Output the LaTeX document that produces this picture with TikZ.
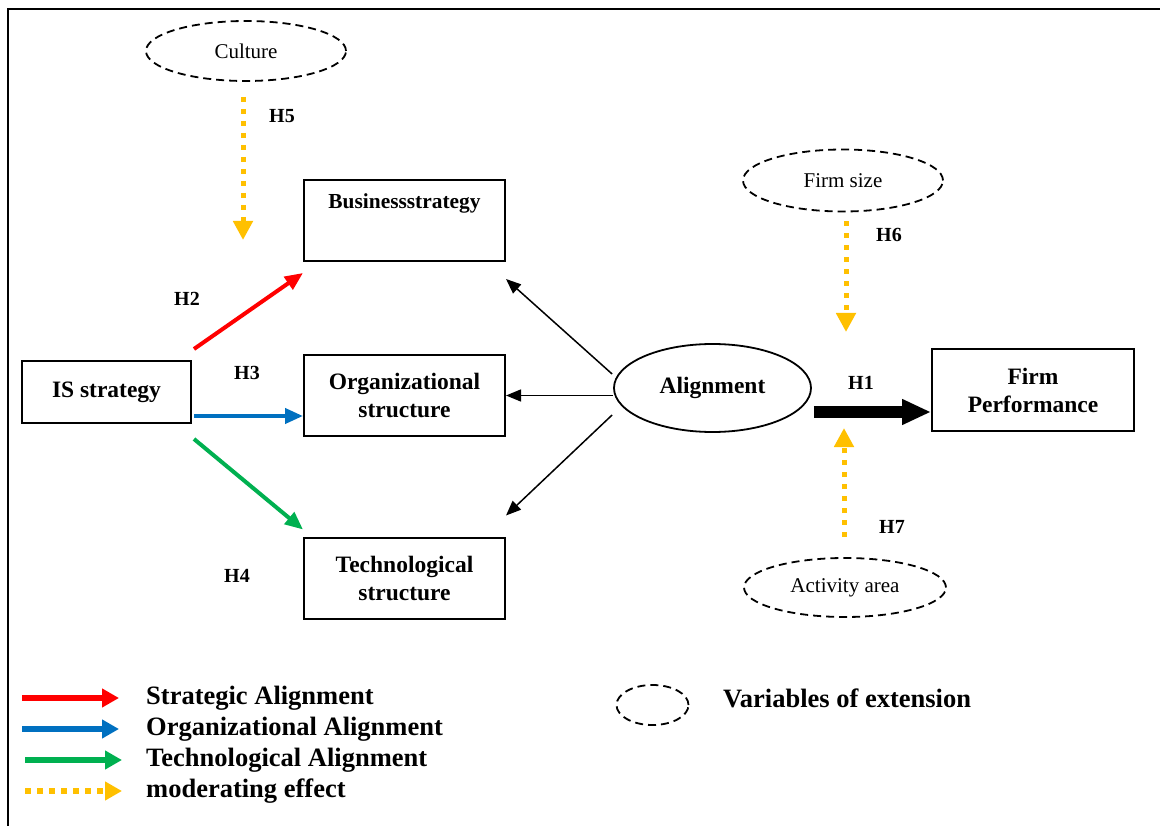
\documentclass[tikz,border=0pt]{standalone}
\usepackage{fontspec}
\setmainfont{Liberation Serif}
\usetikzlibrary{shapes.geometric,arrows.meta}
\definecolor{cred}{HTML}{FF0000}
\definecolor{cblue}{HTML}{0070C0}
\definecolor{cgreen}{HTML}{00B050}
\definecolor{cyel}{HTML}{FFC000}
\tikzset{
  box/.style={draw,line width=2pt,inner sep=0pt,align=center,font=\bfseries\fontsize{23.5}{28}\selectfont},
  varell/.style={draw,ellipse,line width=1.8pt,dash pattern=on 8pt off 5pt,inner sep=0pt,font=\fontsize{21}{24}\selectfont},
  hlab/.style={font=\bfseries\fontsize{20}{24}\selectfont,inner sep=0pt},
  legtxt/.style={anchor=west,inner sep=0pt,font=\bfseries\fontsize{26.5}{30}\selectfont},
  colarrow/.style={line width=4pt,-{Triangle[length=18pt,width=15pt]}},
  blkarrow/.style={line width=1.5pt,-{Triangle[length=15pt,width=12pt]}},
  modarrow/.style={cyel,line width=5pt,dash pattern=on 5pt off 7pt,-{Triangle[length=19pt,width=19pt]}},
  legarrow/.style={line width=6.5pt,-{Triangle[length=17pt,width=18pt]}},
  legmod/.style={cyel,line width=6pt,dash pattern=on 6pt off 6pt,-{Triangle[length=17pt,width=18pt]}},
}
\begin{document}
\begin{tikzpicture}[x=1pt,y=-1pt]
\useasboundingbox (0,0) rectangle (1160,826);
% frame
\draw[line width=2.6pt] (8,826) -- (8,9) -- (1160,9);

% nodes
\node[box,minimum width=169pt,minimum height=62pt] (is) at (106.5,392) {IS strategy};
\node[box,minimum width=201pt,minimum height=81pt] (bus) at (404.5,220.5) {};
\node[hlab,font=\bfseries\fontsize{21.4}{24}\selectfont] (bustext) at (404.5,203) {Businessstrategy};
\node[box,minimum width=201pt,minimum height=81pt] (org) at (404.5,395.5) {Organizational\\structure};
\node[box,minimum width=201pt,minimum height=81pt] (tech) at (404.5,578) {Technological\\structure};
\node[draw,ellipse,line width=1.8pt,inner sep=0pt,minimum width=197pt,minimum height=88pt,font=\bfseries\fontsize{23.5}{28}\selectfont] (align) at (712.5,388) {Alignment};
\node[box,minimum width=202pt,minimum height=82pt] (firm) at (1033,390) {Firm\\Performance};

\node[varell,minimum width=200pt,minimum height=60pt] (culture) at (246,51) {Culture};
\node[varell,minimum width=200pt,minimum height=62pt] (fsize) at (843,180.5) {Firm size};
\node[varell,minimum width=202pt,minimum height=59pt] (act) at (845,587.5) {Activity area};

% hypothesis labels
\node[hlab] (h1) at (861,383) {H1};
\node[hlab] (h2) at (187,299) {H2};
\node[hlab] (h3) at (247,373) {H3};
\node[hlab] (h4) at (237,576) {H4};
\node[hlab] (h5) at (282,116) {H5};
\node[hlab] (h6) at (889,235) {H6};
\node[hlab] (h7) at (892,527) {H7};

% coloured arrows
\draw[colarrow,cred] ([xshift=2pt,yshift=11pt]is.north east) -- ([yshift=-11pt]bus.south west);
\draw[colarrow,cblue] ([xshift=2pt,yshift=-24pt]is.east) -- ([yshift=-20.5pt]org.west);
\draw[colarrow,cgreen] ([xshift=2pt,yshift=-15pt]is.south east) -- ([yshift=7pt]tech.north west);

% black arrows from alignment
\draw[blkarrow] ([xshift=-1pt,yshift=14pt]align.west) -- ([yshift=-17pt]bus.south east);
\draw[blkarrow] ([yshift=-7.5pt]align.west) -- (org.east);
\draw[blkarrow] ([xshift=-1pt,yshift=-27pt]align.west) -- ([yshift=21pt]tech.north east);

% H1
\draw[line width=12pt,-{Triangle[length=29pt,width=24pt]}] ([xshift=2pt,yshift=-24pt]align.east) -- ([yshift=-22pt]firm.west);

% moderating arrows
\coordinate (e5) at (243,240);
\coordinate (e6) at (846,332);
\coordinate (e7) at (844,428);
\draw[modarrow] ([xshift=-3pt,yshift=-15pt]culture.south) -- (e5);
\draw[modarrow] ([xshift=3pt,yshift=-9pt]fsize.south) -- (e6);
\draw[modarrow] ([xshift=-1pt,yshift=20pt]act.north) -- (e7);

% legend
\coordinate (l1a) at (22,698); \coordinate (l1b) at (119,698);
\coordinate (l2a) at (22,729); \coordinate (l2b) at (119,729);
\coordinate (l3a) at (25,760); \coordinate (l3b) at (122,760);
\coordinate (l4a) at (25,791); \coordinate (l4b) at (122,791);
\draw[legarrow,cred] (l1a) -- (l1b);
\draw[legarrow,cblue] (l2a) -- (l2b);
\draw[legarrow,cgreen] (l3a) -- (l3b);
\draw[legmod] (l4a) -- (l4b);
\node[legtxt] (t1) at (146,698) {Strategic Alignment};
\node[legtxt] (t2) at (146,729) {Organizational Alignment};
\node[legtxt] (t3) at (146,760) {Technological Alignment};
\node[legtxt] (t4) at (146,791) {moderating effect};
\node[varell,minimum width=72pt,minimum height=40pt] (legell) at (652.5,705) {};
\node[legtxt] (t5) at (723,698) {Variables of extension};
\end{tikzpicture}
\end{document}
